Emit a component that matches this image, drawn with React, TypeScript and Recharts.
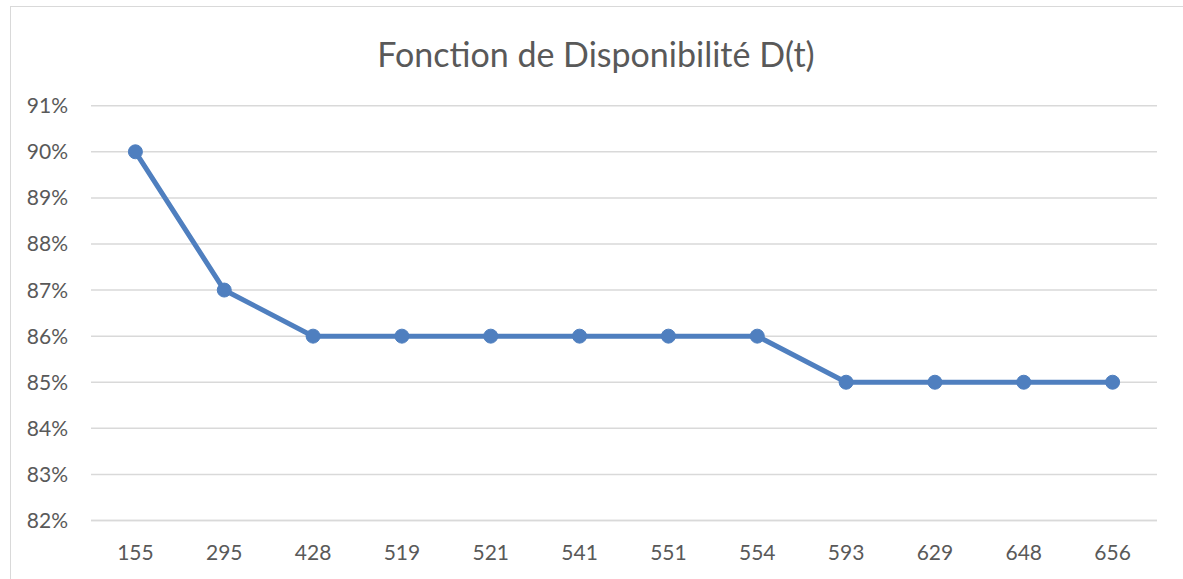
import React from "react";
import { LineChart, Line, XAxis, YAxis, CartesianGrid } from "recharts";

const categories = ["155", "295", "428", "519", "521", "541", "551", "554", "593", "629", "648", "656"];
const availability = [0.9, 0.87, 0.86, 0.86, 0.86, 0.86, 0.86, 0.86, 0.85, 0.85, 0.85, 0.85];
const yTicks = [0.82, 0.83, 0.84, 0.85, 0.86, 0.87, 0.88, 0.89, 0.9, 0.91];
const title = "Fonction de Disponibilité D(t)";

const data = categories.map((c, i) => ({ t: c, d: availability[i] }));

const FONT = "Lato, 'Open Sans', sans-serif";
const TEXT = "#595959";
const LINE = "#4F7FBF";

export default function App() {
  return (
    <div style={{ position: "absolute", left: 0, top: 0, width: 1183, height: 579, overflow: "hidden", background: "#fff" }}>
      <div
        style={{
          position: "absolute",
          left: 10,
          top: 6,
          width: 1300,
          height: 700,
          border: "1.5px solid #d9d9d9",
          boxSizing: "border-box",
        }}
      />
      <div
        style={{
          position: "absolute",
          left: 0,
          top: 34,
          width: 1192,
          textAlign: "center",
          fontFamily: FONT,
          fontSize: 34,
          color: TEXT,
          lineHeight: "40px",
        }}
      >
        {title}
      </div>
      <div style={{ position: "absolute", left: 0, top: 0 }}>
        <LineChart width={1183} height={579} data={data} margin={{ top: 105.7, right: 26, bottom: 0, left: 0 }}>
          <CartesianGrid vertical={false} stroke="#d9d9d9" strokeWidth={1.5} />
          <XAxis
            dataKey="t"
            height={58.5}
            padding={{ left: 44.4, right: 44.4 }}
            axisLine={{ stroke: "#d9d9d9", strokeWidth: 1.5 }}
            tickLine={false}
            tickSize={0}
            tickMargin={25}
            tick={{ fill: TEXT, fontSize: 21, fontFamily: FONT }}
            interval={0}
          />
          <YAxis
            width={91}
            domain={[0.82, 0.91]}
            ticks={yTicks}
            axisLine={false}
            tickLine={false}
            tickSize={0}
            tickMargin={23}
            allowDataOverflow
            tickFormatter={(v: number) => `${Math.round(v * 100)}%`}
            tick={{ fill: TEXT, fontSize: 21, fontFamily: FONT }}
          />
          <Line
            type="linear"
            dataKey="d"
            stroke={LINE}
            strokeWidth={5}
            dot={{ r: 7, fill: LINE, stroke: LINE, strokeWidth: 1 }}
            activeDot={false}
            isAnimationActive={false}
          />
        </LineChart>
      </div>
    </div>
  );
}
